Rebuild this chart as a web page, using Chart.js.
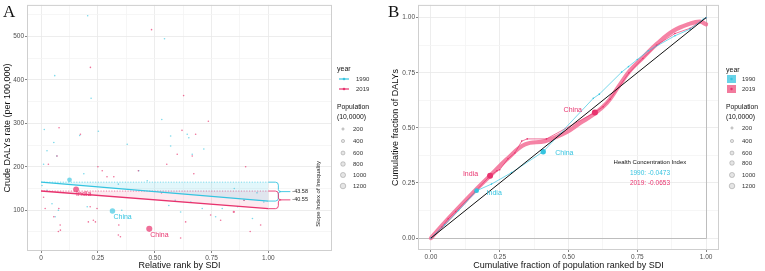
<!DOCTYPE html>
<html>
<head>
<meta charset="utf-8">
<script src="https://cdn.jsdelivr.net/npm/chart.js@4.4.0/dist/chart.umd.min.js"></script>
<style>
  html, body { margin: 0; padding: 0; background: #fff; }
  #wrap { position: relative; width: 765px; height: 271px; overflow: hidden; }
  #chartA { position: absolute; left: 0; top: 0; width: 383px; height: 271px; }
  #chartB { position: absolute; left: 383px; top: 0; width: 382px; height: 271px; }
</style>
</head>
<body>
<div id="wrap">
  <canvas id="chartA" width="383" height="271"></canvas>
  <canvas id="chartB" width="382" height="271"></canvas>
</div>
<script>
'use strict';

// ---- panel A : countries, relative rank by SDI vs crude DALYs rate
const rank1990 = [0.205, 0.543, 0.06, 0.22, 0.531, 0.014, 0.252, 0.57, 0.65, 0.056, 0.379, 0.57, 0.026, 0.069, 0.665,
  0.011, 0.188, 0.125, 0.43, 0.467, 0.004, 0.026, 0.048, 0.203, 0.314, 0.562, 0.614, 0.659, 0.709, 0.768,
  0.865, 0.98, 0.93, 0.797, 0.893, 0.59, 0.076, 0.062, 0.355, 0.716, 0.643, 0.17, 0.34, 0.85, 0.95];
const daly1990 = [548, 495, 410, 358, 309, 286, 282, 271, 267, 256, 252, 248, 237, 225, 229,
  206, 184, 170, 191, 168, 157, 146, 115, 108, 98, 111, 96, 119, 104, 85,
  108, 119, 81, 104, 123, 123, 100, 85, 100, 241, 275, 272, 160, 150, 140];
const pop1990 = [20, 15, 15, 20, 30, 40, 25, 20, 30, 20, 15, 40, 30, 25, 20,
  60, 20, 870, 15, 50, 40, 30, 20, 20, 1150, 30, 20, 40, 15, 20,
  25, 80, 30, 20, 30, 40, 20, 15, 20, 20, 15, 20, 25, 20, 30];

const rank2019 = [0.486, 0.217, 0.627, 0.079, 0.173, 0.62, 0.68, 0.736, 0.07, 0.599, 0.665, 0.269, 0.29, 0.32, 0.553,
  0.672, 0.154, 0.011, 0.018, 0.078, 0.056, 0.085, 0.246, 0.239, 0.208, 0.23, 0.342, 0.349, 0.34, 0.476,
  0.636, 0.614, 0.848, 0.79, 0.746, 0.92, 0.966, 0.893, 0.216, 0.428, 0.076, 0.084, 0.032, 0.53, 0.9, 0.25];
const daly2019 = [516, 429, 364, 290, 275, 284, 275, 305, 225, 229, 225, 191, 177, 177, 206,
  184, 148, 130, 104, 104, 85, 54, 104, 73, 73, 77, 66, 39, 43, 57,
  73, 36, 96, 77, 89, 51, 66, 123, 108, 191, 51, 66, 206, 140, 200, 200];
const pop2019 = [15, 20, 25, 20, 30, 15, 20, 30, 20, 25, 15, 30, 20, 40, 20,
  35, 1370, 40, 30, 20, 25, 20, 40, 20, 15, 20, 25, 20, 15, 1430,
  20, 25, 200, 30, 20, 60, 20, 20, 25, 20, 15, 20, 20, 30, 20, 15];

const intercept1990 = 164.6;
const intercept2019 = 144.1;
const sii1990 = -43.58;
const sii2019 = -40.55;
const fitX = [0, 1];

const yTicksA = [100, 200, 300, 400, 500];
const yMinorA = [50, 150, 250, 350, 450, 550];
const xTicksA = [0, 0.25, 0.5, 0.75, 1];
const xLabelsA = ['0', '0.25', '0.50', '0.75', '1.00'];
const xMinorA = [0.125, 0.375, 0.625, 0.875];
const popLegend = [200, 400, 600, 800, 1000, 1200];

// ---- panel B : concentration curves
const cumPop1990 = [0, 0.05, 0.1, 0.166, 0.22, 0.293, 0.408, 0.59, 0.612, 0.693, 0.718, 0.75, 0.79, 0.887, 0.942, 0.99, 1];
const cumDaly1990 = [0, 0.06, 0.125, 0.215, 0.245, 0.297, 0.392, 0.634, 0.653, 0.753, 0.778, 0.81, 0.85, 0.918, 0.948, 0.993, 1];
const ptPop1990 = [20, 40, 60, 870, 30, 40, 1150, 40, 30, 30, 30, 30, 30, 40, 30, 30, 20];

const cumPop2019 = [0, 0.04, 0.063, 0.09, 0.16, 0.215, 0.24, 0.25, 0.28, 0.305, 0.33, 0.35, 0.42, 0.596, 0.626, 0.651, 0.72, 0.77, 0.82, 0.887, 0.942, 1];
const cumDaly2019 = [0, 0.05, 0.088, 0.12, 0.21, 0.283, 0.305, 0.31, 0.36, 0.386, 0.44, 0.45, 0.45, 0.57, 0.596, 0.63, 0.75, 0.815, 0.875, 0.928, 0.952, 1];
const ptPop2019 = [20, 40, 60, 40, 40, 1370, 20, 20, 40, 30, 20, 20, 30, 1430, 40, 30, 30, 30, 30, 60, 40, 20];

const smoothPop2019 = [0, 0.063, 0.16, 0.215, 0.275, 0.342, 0.415, 0.475, 0.505, 0.542, 0.59, 0.639, 0.681, 0.724, 0.772, 0.821, 0.881, 0.942, 0.978, 1];
const smoothDaly2019 = [0, 0.088, 0.215, 0.283, 0.357, 0.425, 0.44, 0.47, 0.49, 0.522, 0.56, 0.612, 0.686, 0.761, 0.821, 0.881, 0.94, 0.973, 0.982, 0.97];

const equalityLine = [0, 1];
const hci1990 = -0.0473;
const hci2019 = -0.0653;
const ticksB = [0, 0.25, 0.5, 0.75, 1];
const labelsB = ['0.00', '0.25', '0.50', '0.75', '1.00'];
const minorB = [0.125, 0.375, 0.625, 0.875];

// ---- style
const CYAN = '#35c4e0';
const PINK = '#e8336e';
const FONT = "'Liberation Sans', Arial, sans-serif";
Chart.defaults.font.family = FONT;
Chart.defaults.color = '#4d4d4d';

function popToRadius(p) { return Math.max(0.8, 2.9 * Math.sqrt(p / 1300)); }
function xy(xs, ys) { return xs.map(function (v, i) { return { x: v, y: ys[i] }; }); }

function axis(min, max, major, minor, labels, title, titlePad) {
  return {
    type: 'linear', min: min, max: max,
    afterBuildTicks: function (scale) {
      scale.ticks = major.concat(minor).sort(function (a, b) { return a - b; }).map(function (v) { return { value: v }; });
    },
    ticks: {
      autoSkip: false, maxRotation: 0, padding: 1,
      font: { size: 6.5 }, color: '#4d4d4d',
      callback: function (v) { const i = major.indexOf(v); return i >= 0 ? labels[i] : ''; }
    },
    grid: {
      color: function (c) { return major.indexOf(c.tick.value) >= 0 ? '#e8e8e8' : '#f4f4f4'; },
      tickColor: function (c) { return major.indexOf(c.tick.value) >= 0 ? '#666' : 'rgba(0,0,0,0)'; },
      tickLength: 2, lineWidth: 0.8
    },
    border: { display: false },
    title: { display: true, text: title, color: '#111', font: { size: 9 }, padding: titlePad }
  };
}

function drawFrame(ctx, a) {
  ctx.strokeStyle = '#cfcfcf';
  ctx.lineWidth = 1;
  ctx.strokeRect(a.left + 0.5, a.top + 0.5, a.right - a.left - 1, a.bottom - a.top - 1);
}

function drawLabel(ctx, text, px, py, color, align, size) {
  ctx.fillStyle = color;
  ctx.textAlign = align;
  ctx.textBaseline = 'middle';
  ctx.font = size + 'px ' + FONT;
  ctx.fillText(text, px, py);
}

function drawSizeLegend(ctx, x0, y0, symX, txtX, rows) {
  drawLabel(ctx, 'Population', x0, y0, '#111', 'left', 6.8);
  drawLabel(ctx, '(10,0000)', x0, y0 + 10, '#111', 'left', 6.8);
  popLegend.forEach(function (p, i) {
    const yy = rows[i];
    ctx.beginPath();
    ctx.arc(symX, yy, popToRadius(p), 0, Math.PI * 2);
    ctx.fillStyle = 'rgba(170,170,170,0.3)';
    ctx.fill();
    ctx.strokeStyle = 'rgba(130,130,130,0.7)';
    ctx.lineWidth = 0.6;
    ctx.stroke();
    drawLabel(ctx, String(p), txtX, yy, '#333', 'left', 6);
  });
}

function drawBrace(ctx, x, y, top, bottom, color, text) {
  const x0 = x.getPixelForValue(1);
  const x1 = x0 + 10, xt = x0 + 22;
  const yT = y.getPixelForValue(top), yB = y.getPixelForValue(bottom);
  const yM = (yT + yB) / 2;
  ctx.strokeStyle = color;
  ctx.lineWidth = 0.9;
  ctx.beginPath();
  ctx.moveTo(x0, yT);
  ctx.lineTo(x1 - 3, yT);
  ctx.quadraticCurveTo(x1, yT, x1, yT + 3);
  ctx.lineTo(x1, yM - 2);
  ctx.quadraticCurveTo(x1, yM, x1 + 3, yM);
  ctx.lineTo(xt, yM);
  ctx.moveTo(x1 + 3, yM);
  ctx.quadraticCurveTo(x1, yM, x1, yM + 2);
  ctx.lineTo(x1, yB - 3);
  ctx.quadraticCurveTo(x1, yB, x1 - 3, yB);
  ctx.lineTo(x0, yB);
  ctx.stroke();
  drawLabel(ctx, text, xt + 2, yM, '#222', 'left', 5.5);
}

const panelA = {
  id: 'panelA',
  afterDraw: function (chart) {
    const ctx = chart.ctx, a = chart.chartArea, x = chart.scales.x, y = chart.scales.y;
    ctx.save();
    drawFrame(ctx, a);
    drawBrace(ctx, x, y, intercept1990, intercept1990 + sii1990, CYAN, sii1990.toFixed(2));
    drawBrace(ctx, x, y, intercept2019, intercept2019 + sii2019, PINK, sii2019.toFixed(2));

    ctx.save();
    ctx.translate(318, (a.top + a.bottom) / 2 + 66);
    ctx.rotate(-Math.PI / 2);
    drawLabel(ctx, 'Slope Index of Inequality', 0, 0, '#222', 'center', 6);
    ctx.restore();

    // country labels
    const iCn90 = 24, iIn19 = 16, iCn19 = 29;
    drawLabel(ctx, 'China', x.getPixelForValue(rank1990[iCn90]) + 1, y.getPixelForValue(daly1990[iCn90]) + 6, CYAN, 'left', 7);
    drawLabel(ctx, 'India', x.getPixelForValue(rank2019[iIn19]), y.getPixelForValue(daly2019[iIn19]) + 5, PINK, 'left', 7);
    drawLabel(ctx, 'China', x.getPixelForValue(rank2019[iCn19]) + 1, y.getPixelForValue(daly2019[iCn19]) + 6, PINK, 'left', 7);

    // legend
    drawLabel(ctx, 'year', 337, 69, '#111', 'left', 7);
    [['1990', CYAN, 79], ['2019', PINK, 89]].forEach(function (r) {
      ctx.strokeStyle = r[1];
      ctx.lineWidth = 1.2;
      ctx.beginPath(); ctx.moveTo(339, r[2]); ctx.lineTo(349, r[2]); ctx.stroke();
      ctx.fillStyle = r[1];
      ctx.beginPath(); ctx.arc(344, r[2], 1.3, 0, Math.PI * 2); ctx.fill();
      drawLabel(ctx, r[0], 356, r[2], '#333', 'left', 6);
    });
    drawSizeLegend(ctx, 337, 107, 343, 353, [129, 141, 153, 164, 175, 186]);

    ctx.fillStyle = '#111';
    ctx.textAlign = 'left'; ctx.textBaseline = 'alphabetic';
    ctx.font = "17px 'Liberation Serif', serif";
    ctx.fillText('A', 3, 17);
    ctx.restore();
  }
};

new Chart(document.getElementById('chartA'), {
  type: 'scatter',
  data: {
    datasets: [
      { type: 'line', label: 'fit1990', data: xy(fitX, [intercept1990, intercept1990 + sii1990]),
        borderColor: CYAN, borderWidth: 1.4, pointRadius: 0, fill: '+1', backgroundColor: 'rgba(53,196,224,0.14)', order: 1 },
      { type: 'line', label: 'ref1990', data: xy(fitX, [intercept1990, intercept1990]),
        borderColor: 'rgba(53,196,224,0.8)', borderWidth: 0.8, borderDash: [1.2, 1.5], pointRadius: 0, fill: false, order: 2 },
      { type: 'line', label: 'fit2019', data: xy(fitX, [intercept2019, intercept2019 + sii2019]),
        borderColor: PINK, borderWidth: 1.4, pointRadius: 0, fill: '+1', backgroundColor: 'rgba(232,51,110,0.10)', order: 1 },
      { type: 'line', label: 'ref2019', data: xy(fitX, [intercept2019, intercept2019]),
        borderColor: 'rgba(232,51,110,0.8)', borderWidth: 0.8, borderDash: [1.2, 1.5], pointRadius: 0, fill: false, order: 2 },
      { label: '1990', data: xy(rank1990, daly1990), pointRadius: pop1990.map(popToRadius),
        backgroundColor: 'rgba(53,196,224,0.65)', borderWidth: 0, order: 4 },
      { label: '2019', data: xy(rank2019, daly2019), pointRadius: pop2019.map(popToRadius),
        backgroundColor: 'rgba(232,51,110,0.7)', borderWidth: 0, order: 3 }
    ]
  },
  options: {
    responsive: false, animation: false, events: [],
    layout: { padding: { left: 0, top: 2, right: 51, bottom: 0 } },
    plugins: { legend: { display: false }, tooltip: { enabled: false } },
    scales: {
      x: Object.assign(axis(-0.062, 1.28, xTicksA, xMinorA, xLabelsA, 'Relative rank by SDI', { top: 0, bottom: 0 }),
        { afterFit: function (s) { s.height = 20; } }),
      y: Object.assign(axis(6, 573, yTicksA, yMinorA, yTicksA.map(String), 'Crude DALYs rate (per 100,000)', { top: 2, bottom: 0 }),
        { afterFit: function (s) { s.width = 27; } })
    }
  },
  plugins: [panelA]
});

// ---- panel B
const panelB = {
  id: 'panelB',
  beforeDatasetsDraw: function (chart) {
    const ctx = chart.ctx, a = chart.chartArea, x = chart.scales.x, y = chart.scales.y;
    ctx.save();
    ctx.strokeStyle = '#bdbdbd';
    ctx.lineWidth = 1;
    const y0 = Math.round(y.getPixelForValue(0)) + 0.5, x1 = Math.round(x.getPixelForValue(1)) + 0.5;
    ctx.beginPath();
    ctx.moveTo(a.left, y0); ctx.lineTo(x1, y0);
    ctx.lineTo(x1, a.top);
    ctx.stroke();
    ctx.restore();
  },
  afterDraw: function (chart) {
    const ctx = chart.ctx, a = chart.chartArea, x = chart.scales.x, y = chart.scales.y;
    ctx.save();
    drawFrame(ctx, a);

    const iIn90 = 3, iCn90 = 6, iIn19 = 5, iCn19 = 13;
    drawLabel(ctx, 'India', x.getPixelForValue(cumPop2019[iIn19]) - 12, y.getPixelForValue(cumDaly2019[iIn19]) - 2, PINK, 'right', 7);
    drawLabel(ctx, 'China', x.getPixelForValue(cumPop2019[iCn19]) - 13, y.getPixelForValue(cumDaly2019[iCn19]) - 2, PINK, 'right', 7);
    drawLabel(ctx, 'India', x.getPixelForValue(cumPop1990[iIn90]) + 10, y.getPixelForValue(cumDaly1990[iIn90]) + 2, CYAN, 'left', 7);
    drawLabel(ctx, 'China', x.getPixelForValue(cumPop1990[iCn90]) + 12, y.getPixelForValue(cumDaly1990[iCn90]) + 1, CYAN, 'left', 7);

    const cx = x.getPixelForValue(0.796);
    drawLabel(ctx, 'Health Concentration Index', cx, y.getPixelForValue(0.345), '#111', 'center', 6);
    drawLabel(ctx, '1990: ' + hci1990.toFixed(4), cx, y.getPixelForValue(0.296), CYAN, 'center', 6.5);
    drawLabel(ctx, '2019: ' + hci2019.toFixed(4), cx, y.getPixelForValue(0.247), PINK, 'center', 6.5);

    // legend
    const lx = 726 - 383;
    drawLabel(ctx, 'year', lx, 70, '#111', 'left', 7);
    [['1990', 'rgba(53,196,224,0.75)', CYAN, 79], ['2019', 'rgba(240,100,140,0.85)', PINK, 89]].forEach(function (r) {
      ctx.fillStyle = r[1];
      ctx.fillRect(lx + 1, r[3] - 4, 9, 8);
      ctx.fillStyle = r[2];
      ctx.beginPath(); ctx.arc(lx + 5.5, r[3], 1.2, 0, Math.PI * 2); ctx.fill();
      drawLabel(ctx, r[0], lx + 16, r[3], '#333', 'left', 6);
    });
    drawSizeLegend(ctx, lx, 107, lx + 6, lx + 16, [128, 141, 153, 163, 175, 186]);

    ctx.fillStyle = '#111';
    ctx.textAlign = 'left'; ctx.textBaseline = 'alphabetic';
    ctx.font = "17px 'Liberation Serif', serif";
    ctx.fillText('B', 5, 17);
    ctx.restore();
  }
};

new Chart(document.getElementById('chartB'), {
  type: 'scatter',
  data: {
    datasets: [
      { type: 'line', label: 'equality', data: xy(equalityLine, equalityLine),
        borderColor: '#111', borderWidth: 1, pointRadius: 0, order: 1 },
      { type: 'line', label: '1990', data: xy(cumPop1990, cumDaly1990),
        borderColor: 'rgba(53,196,224,0.85)', borderWidth: 0.8, pointRadius: ptPop1990.map(popToRadius),
        pointBackgroundColor: CYAN, pointBorderWidth: 0, tension: 0, order: 2 },
      { type: 'line', label: '2019', data: xy(cumPop2019, cumDaly2019),
        borderColor: 'rgba(232,51,110,0.85)', borderWidth: 0.8, pointRadius: ptPop2019.map(popToRadius),
        pointBackgroundColor: PINK, pointBorderWidth: 0, tension: 0, order: 3 },
      { type: 'line', label: 'smooth2019', data: xy(smoothPop2019, smoothDaly2019),
        borderColor: 'rgba(242,100,142,0.8)', borderWidth: 4.2, pointRadius: 0, tension: 0.4,
        borderCapStyle: 'round', order: 4 }
    ]
  },
  options: {
    responsive: false, animation: false, events: [],
    layout: { padding: { left: 0, top: 2, right: 46, bottom: 0 } },
    plugins: { legend: { display: false }, tooltip: { enabled: false } },
    scales: {
      x: Object.assign(axis(-0.047, 1.047, ticksB, minorB, labelsB, 'Cumulative fraction of population ranked by SDI', { top: 0, bottom: 0 }),
        { afterFit: function (s) { s.height = 21; } }),
      y: Object.assign(axis(-0.054, 1.058, ticksB, minorB, labelsB, 'Cumulative fraction of DALYs', { top: 7, bottom: 0 }),
        { afterFit: function (s) { s.width = 35; } })
    }
  },
  plugins: [panelB]
});
</script>
</body>
</html>
